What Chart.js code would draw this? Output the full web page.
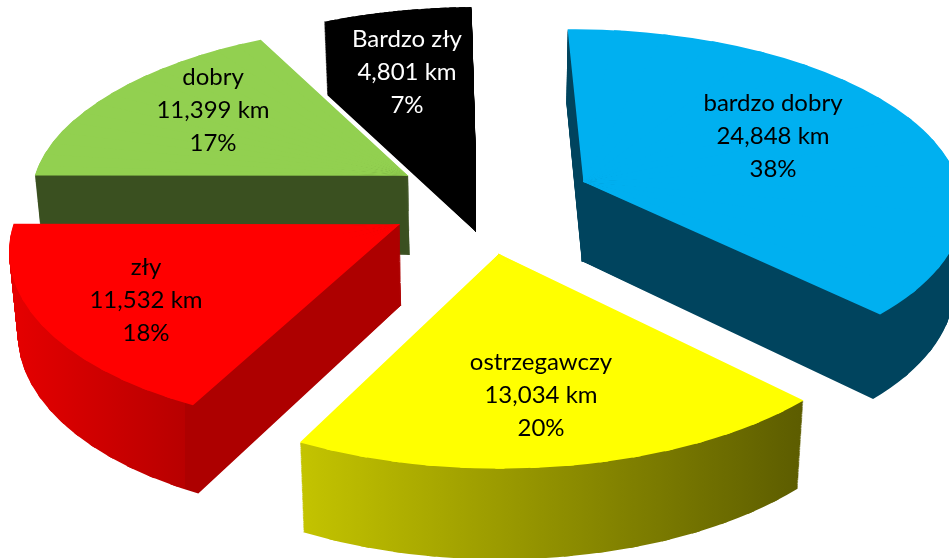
<!DOCTYPE html>
<html>
<head>
<meta charset="utf-8">
<title>Stan nawierzchni</title>
<script src="https://cdn.jsdelivr.net/npm/chart.js@4"></script>
<style>
    html, body { margin: 0; padding: 0; background: #fff; overflow: hidden; }
    #wrap { width: 949px; height: 558px; }
</style>
</head>
<body>
<div id="wrap"><canvas id="pie"></canvas></div>
<script>
const categories = ['bardzo dobry', 'ostrzegawczy', 'zły', 'dobry', 'Bardzo zły'];
const lengths = [24848, 13034, 11532, 11399, 4801];
const lengthLabels = ['24,848 km', '13,034 km', '11,532 km', '11,399 km', '4,801 km'];
const percentLabels = ['38%', '20%', '18%', '17%', '7%'];

const topColors = ['#00b0f0', '#ffff00', '#ff0000', '#92d050', '#000000'];
// left to right stops of the side wall, offset then colour
const wallColors = [
    [[0, '#00445e'], [1, '#00445e']],
    [[0, '#c4c400'], [1, '#5c5c00']],
    [[0, '#e60000'], [0.45, '#b80000'], [0.45, '#ad0000'], [1, '#ad0000']],
    [[0, '#3a5020'], [1, '#3a5020']],
    [[0, '#000000'], [1, '#000000']]
];
const explode = [0.27, 0.3, 0.26, 0.27, 0.28];
const slide = [0, -0.024, -0.012, 0.012, 0.03];
const labelSpots = [[773, 136], [541, 395], [146, 300], [213, 110], [407, 72]];
const drawOrder = [4, 3, 0, 2, 1];

// tilted view of the flat pie, unit circle in, screen pixels out
const view = { cx: 490, cy: 200, a: 380, b: 175, k: 0.12, depth: 80, growY: 0.04, pinchX: 0.018 };
const pieces = 16;

function project(x, y) {
    const w = 1 - view.k * y;
    return [view.cx + view.a * x / w, view.cy + view.b * y / w];
}

function sliceApex(el, amount, shift) {
    const mid = (el.startAngle + el.endAngle) / 2;
    return [Math.cos(mid) * amount + shift, Math.sin(mid) * amount];
}

// affine map taking one thin wedge of the flat slice onto its projected triangle
function wedgeMatrix(el, a, s, e) {
    const r = el.outerRadius;
    const apex = project(a[0], a[1]);
    const p1 = project(a[0] + Math.cos(s), a[1] + Math.sin(s));
    const p2 = project(a[0] + Math.cos(e), a[1] + Math.sin(e));
    const u1 = [Math.cos(s) * r, Math.sin(s) * r], u2 = [Math.cos(e) * r, Math.sin(e) * r];
    const v1 = [p1[0] - apex[0], p1[1] - apex[1]], v2 = [p2[0] - apex[0], p2[1] - apex[1]];
    const det = u1[0] * u2[1] - u2[0] * u1[1];
    const m11 = (v1[0] * u2[1] - v2[0] * u1[1]) / det;
    const m12 = (v2[0] * u1[0] - v1[0] * u2[0]) / det;
    const m21 = (v1[1] * u2[1] - v2[1] * u1[1]) / det;
    const m22 = (v2[1] * u1[0] - v1[1] * u2[0]) / det;
    return [m11, m21, m12, m22,
        apex[0] - m11 * el.x - m12 * el.y,
        apex[1] - m21 * el.x - m22 * el.y];
}

// draw the arc element wedge by wedge; t 0 is the top face, t 1 the bottom face
function drawSlice(c, el, a, t) {
    const step = (el.endAngle - el.startAngle) / pieces;
    const sx = 1 - view.pinchX * t, tx = view.pinchX * t * view.cx;
    const sy = 1 + view.growY * t, ty = t * (view.depth - view.growY * view.cy);
    const reach = el.outerRadius * 1.4;
    for (let j = 0; j < pieces; j++) {
        const s = el.startAngle + step * j, e = s + step, mid = s + step / 2;
        const m = wedgeMatrix(el, a, s, e);
        c.save();
        c.setTransform(sx * m[0], sy * m[1], sx * m[2], sy * m[3], sx * m[4] + tx, sy * m[5] + ty);
        c.beginPath();
        // start a little behind the apex so neighbours overlap there and leave no seam
        c.moveTo(el.x - Math.cos(mid) * 4, el.y - Math.sin(mid) * 4);
        c.lineTo(el.x + Math.cos(s - 0.01) * reach, el.y + Math.sin(s - 0.01) * reach);
        c.lineTo(el.x + Math.cos(e + 0.01) * reach, el.y + Math.sin(e + 0.01) * reach);
        c.closePath();
        c.clip();
        el.draw(c);
        c.restore();
    }
}

function drawWall(ctx, el, a, stops) {
    const off = document.createElement('canvas');
    off.width = ctx.canvas.width;
    off.height = ctx.canvas.height;
    const oc = off.getContext('2d');
    for (let d = view.depth; d >= 1; d--) {
        drawSlice(oc, el, a, d / view.depth);
    }

    // horizontal shading across the whole slice, apex included
    let minX = project(a[0], a[1])[0], maxX = minX;
    for (let i = 0; i <= 24; i++) {
        const t = el.startAngle + (el.endAngle - el.startAngle) * i / 24;
        const x = project(a[0] + Math.cos(t), a[1] + Math.sin(t))[0];
        minX = Math.min(minX, x);
        maxX = Math.max(maxX, x);
    }
    const gradient = oc.createLinearGradient(minX, 0, maxX, 0);
    stops.forEach(stop => gradient.addColorStop(stop[0], stop[1]));
    oc.globalCompositeOperation = 'source-in';
    oc.fillStyle = gradient;
    oc.fillRect(0, 0, off.width, off.height);

    ctx.drawImage(off, 0, 0);
}

const tiltedPie = {
    id: 'tiltedPie',
    beforeDatasetsDraw(chart) {
        const ctx = chart.ctx;
        const arcs = chart.getDatasetMeta(0).data;

        drawOrder.forEach(i => {
            const a = sliceApex(arcs[i], explode[i], slide[i]);
            drawWall(ctx, arcs[i], a, wallColors[i]);
            drawSlice(ctx, arcs[i], a, 0);
        });

        ctx.save();
        ctx.font = '24px Lato, "Open Sans", sans-serif';
        ctx.textAlign = 'center';
        ctx.textBaseline = 'middle';
        categories.forEach((name, i) => {
            const [x, y] = labelSpots[i];
            ctx.fillStyle = i === 4 ? '#ffffff' : '#000000';
            ctx.fillText(name, x, y - 33);
            ctx.fillText(lengthLabels[i], x, y);
            ctx.fillText(percentLabels[i], x, y + 33);
        });
        ctx.restore();
        return false;
    }
};

new Chart(document.getElementById('pie'), {
    type: 'pie',
    data: {
        labels: categories,
        datasets: [{
            data: lengths,
            backgroundColor: topColors,
            borderWidth: 0
        }]
    },
    options: {
        responsive: true,
        maintainAspectRatio: false,
        animation: false,
        rotation: -1,
        plugins: {
            legend: { display: false },
            tooltip: { enabled: false }
        }
    },
    plugins: [tiltedPie]
});
</script>
</body>
</html>
